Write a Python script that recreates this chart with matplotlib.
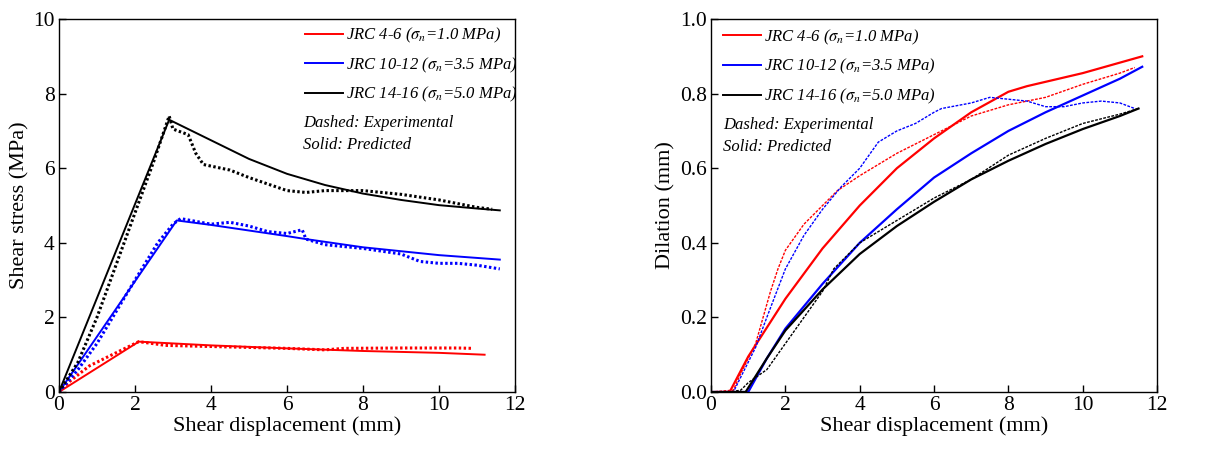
import matplotlib
matplotlib.use("Agg")
import matplotlib.pyplot as plt
from matplotlib.lines import Line2D

plt.rcParams['font.family'] = ['Liberation Serif', 'DejaVu Serif']
plt.rcParams['mathtext.fontset'] = 'stix'

# ---------------- Shear stress vs shear displacement ----------------
# Predicted (solid)
tau_pred_x_r = [0, 2.1, 4, 6, 8, 10, 11.2]
tau_pred_y_r = [0, 1.35, 1.25, 1.17, 1.10, 1.05, 1.00]
tau_pred_x_b = [0, 3.1, 4, 5, 6, 6.5, 8, 10, 11.6]
tau_pred_y_b = [0, 4.60, 4.48, 4.33, 4.18, 4.10, 3.88, 3.67, 3.55]
tau_pred_x_k = [0, 2.9, 3.5, 4, 5, 6, 7, 8, 9, 10, 11, 11.6]
tau_pred_y_k = [0, 7.30, 7.00, 6.75, 6.25, 5.85, 5.55, 5.32, 5.15, 5.01, 4.92, 4.87]

# Experimental (dashed)
tau_exp_x_r = [0, 0.3, 0.8, 1.5, 2.1, 2.6, 2.8, 4, 6, 7, 7.5, 9, 10.5, 10.9]
tau_exp_y_r = [0, 0.3, 0.7, 1.05, 1.35, 1.28, 1.25, 1.22, 1.17, 1.13, 1.17, 1.18, 1.18, 1.17]
tau_exp_x_b = [0, 0.5, 1, 2, 2.6, 3.0, 3.2, 4, 4.5, 5, 5.5, 6, 6.4, 6.5, 7, 8, 9,
               9.5, 10, 10.5, 11, 11.6]
tau_exp_y_b = [0, 0.6, 1.3, 3.0, 4.0, 4.5, 4.65, 4.5, 4.55, 4.45, 4.3, 4.25, 4.35,
               4.1, 3.95, 3.85, 3.7, 3.5, 3.45, 3.45, 3.4, 3.3]
tau_exp_x_k = [0, 0.5, 1, 2, 2.5, 2.9, 3.0, 3.4, 3.6, 3.8, 4.5, 5, 6, 6.5, 7, 8, 9,
               10, 11, 11.4]
tau_exp_y_k = [0, 0.8, 2.0, 4.8, 6.2, 7.4, 7.05, 6.9, 6.4, 6.1, 5.95, 5.75, 5.4,
               5.35, 5.4, 5.4, 5.3, 5.15, 4.95, 4.9]

# ---------------- Dilation vs shear displacement ----------------
dil_pred_x_r = [0, 0.5, 1, 2, 3, 4, 5, 6, 7, 8, 8.5, 10, 11.6]
dil_pred_y_r = [0, 0, 0.095, 0.25, 0.385, 0.50, 0.60, 0.68, 0.75, 0.805, 0.82, 0.855, 0.90]
dil_pred_x_b = [0, 1.0, 1.5, 2, 3, 4, 5, 6, 7, 8, 9, 10, 11, 11.6]
dil_pred_y_b = [0, 0, 0.09, 0.17, 0.29, 0.40, 0.49, 0.575, 0.64, 0.70, 0.75, 0.795, 0.84, 0.872]
dil_pred_x_k = [0, 0.93, 1.5, 2, 3, 4, 5, 6, 7, 8, 9, 10, 11, 11.5]
dil_pred_y_k = [0, 0, 0.09, 0.165, 0.275, 0.37, 0.445, 0.51, 0.57, 0.62, 0.665, 0.705, 0.74, 0.76]

dil_exp_x_r = [0, 0.6, 0.8, 1.2, 1.6, 1.8, 2, 2.5, 3, 3.4, 4, 5, 6, 7, 8, 9, 10, 11, 11.4]
dil_exp_y_r = [0, 0.005, 0.05, 0.13, 0.27, 0.33, 0.38, 0.45, 0.50, 0.54, 0.58, 0.64,
               0.69, 0.74, 0.77, 0.79, 0.825, 0.855, 0.87]
dil_exp_x_b = [0, 0.6, 0.8, 1.2, 1.5, 2, 2.5, 3, 3.5, 4, 4.5, 5, 5.5, 6, 6.2, 7, 7.5,
               8, 8.5, 9, 9.5, 10, 10.5, 11, 11.4]
dil_exp_y_b = [0, 0, 0.04, 0.12, 0.2, 0.33, 0.42, 0.49, 0.55, 0.60, 0.67, 0.70, 0.72,
               0.75, 0.76, 0.775, 0.79, 0.785, 0.78, 0.765, 0.765, 0.775, 0.78, 0.775, 0.76]
dil_exp_x_k = [0, 0.5, 0.8, 1.0, 1.5, 2, 2.5, 3, 3.3, 4, 5, 6, 7, 8, 9, 10, 11, 11.5]
dil_exp_y_k = [0, 0, 0.005, 0.025, 0.06, 0.13, 0.2, 0.27, 0.33, 0.40, 0.46, 0.52,
               0.57, 0.635, 0.68, 0.72, 0.745, 0.76]

labels = ['JRC 4-6 ($\\sigma_n$=1.0 MPa)',
          'JRC 10-12 ($\\sigma_n$=3.5 MPa)',
          'JRC 14-16 ($\\sigma_n$=5.0 MPa)']
colors = ['#ff0000', '#0000ff', '#000000']

fig = plt.figure(figsize=(12.23, 4.51), dpi=100)
ax1 = fig.add_axes([0.0482, 0.1308, 0.3729, 0.827])
ax2 = fig.add_axes([0.5814, 0.1308, 0.3647, 0.827])

exp_sets1 = [(tau_exp_x_r, tau_exp_y_r), (tau_exp_x_b, tau_exp_y_b), (tau_exp_x_k, tau_exp_y_k)]
pred_sets1 = [(tau_pred_x_r, tau_pred_y_r), (tau_pred_x_b, tau_pred_y_b), (tau_pred_x_k, tau_pred_y_k)]
exp_sets2 = [(dil_exp_x_r, dil_exp_y_r), (dil_exp_x_b, dil_exp_y_b), (dil_exp_x_k, dil_exp_y_k)]
pred_sets2 = [(dil_pred_x_r, dil_pred_y_r), (dil_pred_x_b, dil_pred_y_b), (dil_pred_x_k, dil_pred_y_k)]

for (ex, ey), (px, py), c in zip(exp_sets1, pred_sets1, colors):
    ax1.plot(ex, ey, color=c, lw=2.2, ls=(0, (0.8, 0.8)))
    ax1.plot(px, py, color=c, lw=1.4)
for (ex, ey), (px, py), c in zip(exp_sets2, pred_sets2, colors):
    ax2.plot(ex, ey, color=c, lw=1.0, ls=(0, (2, 1)))
    ax2.plot(px, py, color=c, lw=1.6)

handles = [Line2D([], [], color=c, lw=1.4) for c in colors]

for ax, ylim, yticks, ylabel, leg_anchor, note_x, note_y in [
        (ax1, (0, 10), [0, 2, 4, 6, 8, 10], 'Shear stress (MPa)', (0.513, 1.013), 0.535, 0.742),
        (ax2, (0, 1.0), [0.0, 0.2, 0.4, 0.6, 0.8, 1.0], 'Dilation (mm)', (0.0, 1.008), 0.027, 0.737)]:
    ax.set_xlim(0, 12)
    ax.set_ylim(*ylim)
    ax.set_xticks([0, 2, 4, 6, 8, 10, 12])
    ax.set_yticks(yticks)
    if ax is ax2:
        ax.set_yticklabels([f'{v:.1f}' for v in yticks])
    ax.tick_params(direction='in', length=5, width=1, labelsize=15.5, top=False,
                   right=False, pad=3)
    ax.set_xlabel('Shear displacement (mm)', fontsize=16, labelpad=1)
    ax.set_ylabel(ylabel, fontsize=16, labelpad=3)
    for s in ax.spines.values():
        s.set_linewidth(1.0)
    leg = ax.legend(handles, labels, loc='upper left', bbox_to_anchor=leg_anchor,
                    frameon=False, prop={'style': 'italic', 'size': 12},
                    handlelength=2.3, handletextpad=0.2, labelspacing=0.62,
                    borderaxespad=0.3)
    ax.text(note_x, note_y, 'Dashed: Experimental\nSolid: Predicted',
            transform=ax.transAxes, fontsize=12, style='italic',
            va='top', ha='left', linespacing=1.5)

fig.savefig('out.png', dpi=100)
